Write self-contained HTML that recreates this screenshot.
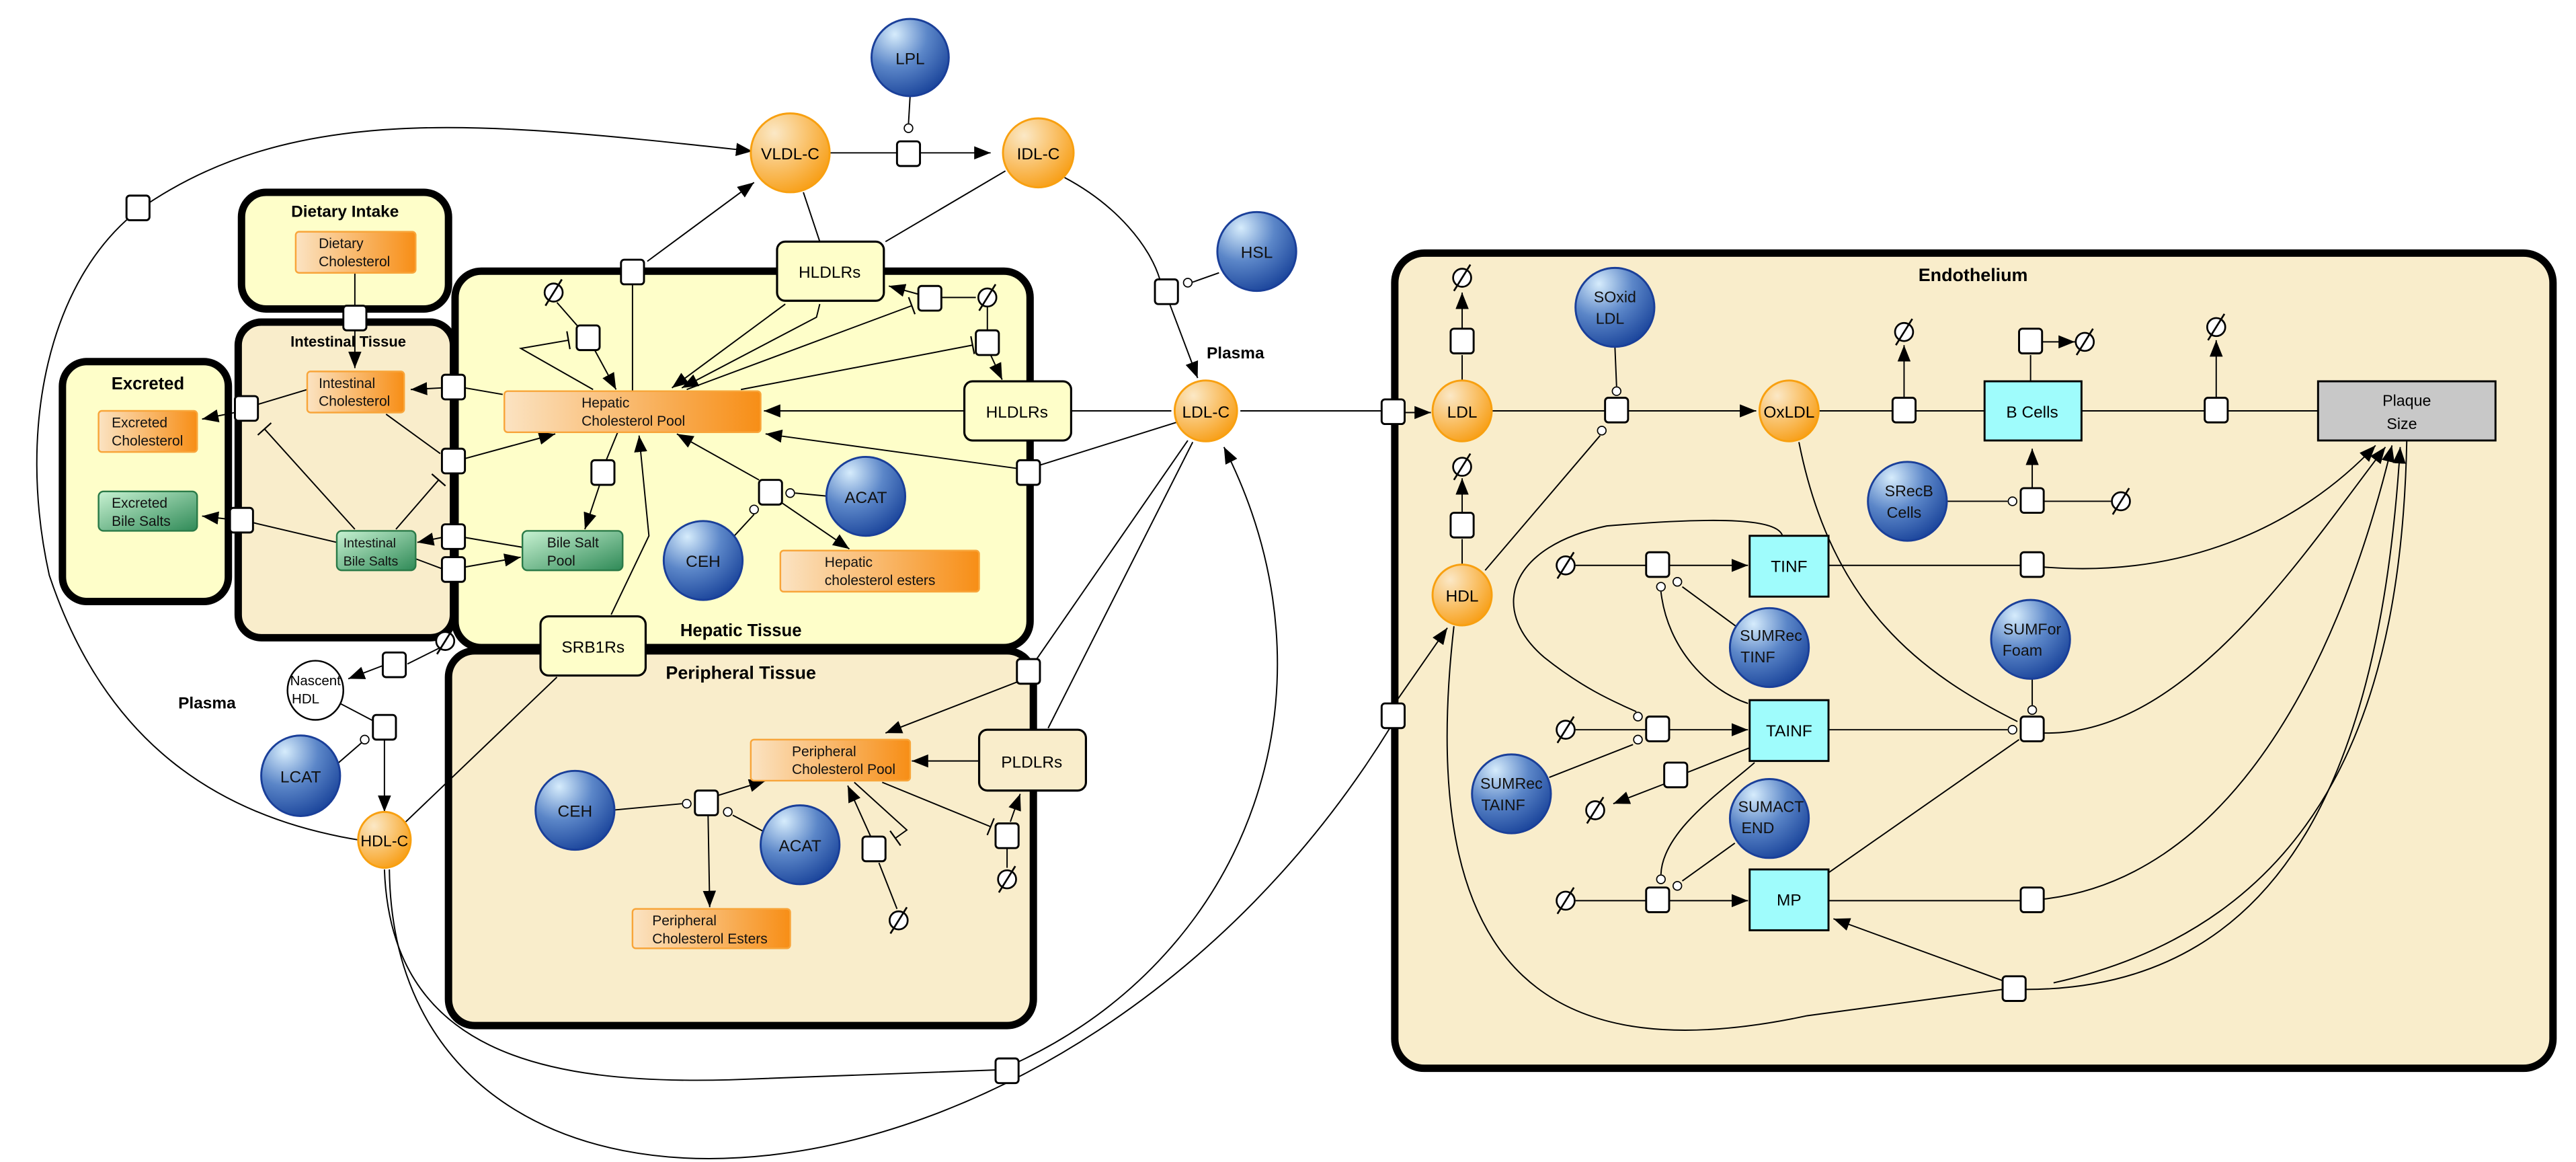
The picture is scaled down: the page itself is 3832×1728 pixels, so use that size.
<!DOCTYPE html>
<html><head><meta charset="utf-8"><style>html,body{margin:0;padding:0;background:#fff}svg{display:block}</style></head><body>
<svg xmlns="http://www.w3.org/2000/svg" width="3832" height="1728" viewBox="0 0 1568 707" preserveAspectRatio="none" font-family="Liberation Sans, sans-serif">
<defs>
<marker id="a" markerUnits="userSpaceOnUse" markerWidth="10" markerHeight="8" viewBox="0 0 10 8" refX="10" refY="4" orient="auto"><path d="M0,0L10,4L0,8z" fill="#000"/></marker>
<marker id="t" markerUnits="userSpaceOnUse" markerWidth="2" markerHeight="12" viewBox="-1 -6 2 12" refX="0" refY="0" orient="auto"><path d="M0,-5.5V5.5" stroke="#000" stroke-width="0.9"/></marker>
<radialGradient id="og" cx="0.3" cy="0.25" r="0.8"><stop offset="0" stop-color="#fbe8c6"/><stop offset="1" stop-color="#f8a01a"/></radialGradient>
<radialGradient id="bg" cx="0.3" cy="0.2" r="0.85"><stop offset="0" stop-color="#d6ecfc"/><stop offset="0.5" stop-color="#5b86c8"/><stop offset="1" stop-color="#1c469c"/></radialGradient>
<linearGradient id="or" x1="0" x2="1"><stop offset="0" stop-color="#fbe3c2"/><stop offset="1" stop-color="#f78e16"/></linearGradient>
<linearGradient id="gr" x1="0" x2="1" y1="0" y2="1"><stop offset="0" stop-color="#c8f2d2"/><stop offset="1" stop-color="#2f8a57"/></linearGradient>
</defs>

<!-- compartments -->
<g stroke="#000" stroke-width="4.5">
<rect x="147" y="117" width="126" height="71" rx="15" fill="#fefec9"/>
<rect x="145" y="196" width="131" height="192" rx="14" fill="#f9edcb"/>
<rect x="38" y="220" width="101" height="146" rx="15" fill="#fefec9"/>
<rect x="277" y="165" width="350" height="229" rx="16" fill="#fefec9"/>
<rect x="273" y="396" width="356" height="228" rx="16" fill="#f9edcb"/>
<rect x="849" y="154" width="705" height="496" rx="18" fill="#f9edcb"/>
</g>
<g font-weight="bold" font-size="10" text-anchor="middle" fill="#000">
<text x="210" y="132">Dietary Intake</text>
<text x="212" y="211" font-size="9">Intestinal Tissue</text>
<text x="90" y="237" font-size="10.5">Excreted</text>
<text x="451" y="387" font-size="10.5">Hepatic Tissue</text>
<text x="451" y="413" font-size="11">Peripheral Tissue</text>
<text x="1201" y="171" font-size="11">Endothelium</text>
<text x="752" y="218">Plasma</text>
<text x="126" y="431">Plasma</text>
</g>

<!-- connectors -->
<g fill="none" stroke="#000" stroke-width="0.8">
<!-- big outer loop to VLDL -->
<path d="M218,511 C120,495 60,440 30,350 C10,260 30,170 84,128 C180,60 300,75 458,92" marker-end="url(#a)"/>
<!-- HDL-C bottom curves -->
<path d="M234,529 C238,640 330,660 444,657 L606,651"/>
<path d="M620,646 C760,580 820,420 745,272" marker-end="url(#a)"/>
<path d="M237,529 C240,790 650,760 846,443"/>
<path d="M849,428 L881,382" marker-end="url(#a)"/>
<path d="M247,500 L339,412"/>
<!-- VLDL/IDL -->
<path d="M504,93 L546,93"/><path d="M560,93 L603,93" marker-end="url(#a)"/>
<path d="M554,58 L553,75"/>
<path d="M489,117 L499,147"/><path d="M612,104 L539,147"/>
<path d="M648,108 C680,125 700,150 706,170"/>
<path d="M712,185 L729,230" marker-end="url(#a)"/>
<path d="M725,172 L742,166"/>
<!-- LDL-C -->
<path d="M652,250 L713,250"/>
<path d="M716,257 L633,283"/>
<path d="M619,285 L466,264" marker-end="url(#a)"/>
<path d="M723,268 L631,401"/>
<path d="M726,269 L638,443"/>
<path d="M755,250 L841,250"/>
<path d="M855,251 L871,251" marker-end="url(#a)"/>
<!-- hepatic -->
<path d="M385,173 L385,238"/>
<path d="M394,159 L459,111" marker-end="url(#a)"/>
<path d="M339,184 L353,200"/>
<path d="M362,213 L375,237" marker-end="url(#a)"/>
<path d="M361,237 L317,212 L346,207" marker-end="url(#t)"/>
<path d="M478,185 L409,236" marker-end="url(#a)"/>
<path d="M499,185 L497,193 L415,236" marker-end="url(#a)"/>
<path d="M573,181 L594,181"/>
<path d="M559,179 L541,174" marker-end="url(#a)"/>
<path d="M418,237 L555,186" marker-end="url(#t)"/>
<path d="M601,186 L601,201"/>
<path d="M603,216 L610,231" marker-end="url(#a)"/>
<path d="M451,237 L592,210" marker-end="url(#t)"/>
<path d="M587,250 L465,250" marker-end="url(#a)"/>
<path d="M306,240 L283,236"/>
<path d="M269,236 L250,237" marker-end="url(#a)"/>
<path d="M235,252 L268,276"/>
<path d="M283,279 L338,264" marker-end="url(#a)"/>
<path d="M161,261 L216,322" marker-start="url(#t)"/>
<path d="M241,322 L267,292" marker-end="url(#t)"/>
<path d="M318,333 L283,327"/>
<path d="M269,327 L254,330" marker-end="url(#a)"/>
<path d="M253,340 L269,346"/>
<path d="M283,345 L317,339" marker-end="url(#a)"/>
<path d="M376,263 L369,280"/>
<path d="M365,295 L356,322" marker-end="url(#a)"/>
<path d="M372,374 L395,326 L389,265" marker-end="url(#a)"/>
<path d="M462,292 L412,264" marker-end="url(#a)"/>
<path d="M476,306 L517,334" marker-end="url(#a)"/>
<path d="M484,300 L505,302"/>
<path d="M459,313 L447,326"/>
<!-- intestinal/excreted -->
<path d="M216,166 L216,186"/>
<path d="M216,201 L216,224" marker-end="url(#a)"/>
<path d="M187,237 L157,246"/>
<path d="M143,251 L123,255" marker-end="url(#a)"/>
<path d="M205,330 L154,318"/>
<path d="M140,316 L123,314" marker-end="url(#a)"/>
<!-- plasma left -->
<path d="M268,394 L248,404"/>
<path d="M233,405 L212,413" marker-end="url(#a)"/>
<path d="M207,428 L228,439"/>
<path d="M220,452 L205,465"/>
<path d="M234,450 L234,494" marker-end="url(#a)"/>
<!-- peripheral -->
<path d="M619,415 L539,446" marker-end="url(#a)"/>
<path d="M596,463 L555,463" marker-end="url(#a)"/>
<path d="M372,493 L415,489"/>
<path d="M437,484 L466,475" marker-end="url(#a)"/>
<path d="M446,496 L465,506"/>
<path d="M431,496 L432,552" marker-end="url(#a)"/>
<path d="M546,553 L535,525"/>
<path d="M530,509 L516,478" marker-end="url(#a)"/>
<path d="M520,476 L552,505 L545,510" marker-end="url(#t)"/>
<path d="M537,476 L603,503" marker-end="url(#t)"/>
<path d="M613,516 L613,528"/>
<path d="M615,500 L621,483" marker-end="url(#a)"/>
<!-- endothelium -->
<path d="M890,231 L890,216"/><path d="M890,200 L890,178" marker-end="url(#a)"/>
<path d="M890,343 L890,328"/><path d="M890,312 L890,291" marker-end="url(#a)"/>
<path d="M908,250 L977,250"/>
<path d="M991,250 L1069,250" marker-end="url(#a)"/>
<path d="M983,211 L984,235"/>
<path d="M974,265 L904,347"/>
<path d="M1107,250 L1152,250"/><path d="M1166,250 L1208,250"/>
<path d="M1159,242 L1159,210" marker-end="url(#a)"/>
<path d="M1236,232 L1236,216"/>
<path d="M1243,208 L1263,208" marker-end="url(#a)"/>
<path d="M1267,250 L1342,250"/><path d="M1356,250 L1411,250"/>
<path d="M1349,242 L1349,207" marker-end="url(#a)"/>
<path d="M1185,305 L1222,305"/>
<path d="M1244,305 L1285,305"/>
<path d="M1237,297 L1237,273" marker-end="url(#a)"/>
<path d="M959,344 L1002,344"/>
<path d="M1016,344 L1064,344" marker-end="url(#a)"/>
<path d="M1113,344 L1230,344"/>
<path d="M1244,345 C1330,352 1400,320 1446,271" marker-end="url(#a)"/>
<path d="M1024,357 L1058,382"/>
<path d="M1011,360 C1015,395 1040,420 1064,428"/>
<path d="M1085,326 C1082,316 1050,314 978,320 C920,332 905,370 940,400 C965,420 985,428 996,433"/>
<path d="M959,444 L1002,444"/>
<path d="M1016,444 L1064,444" marker-end="url(#a)"/>
<path d="M994,453 L943,473"/>
<path d="M1113,444 L1222,444"/>
<path d="M1095,269 C1115,370 1170,410 1228,439"/>
<path d="M1244,446 C1330,448 1400,340 1452,272" marker-end="url(#a)"/>
<path d="M1237,403 L1237,429"/>
<path d="M1065,455 L1027,470"/>
<path d="M1013,477 L982,489" marker-end="url(#a)"/>
<path d="M959,548 L1002,548"/>
<path d="M1016,548 L1064,548" marker-end="url(#a)"/>
<path d="M1024,536 L1056,513"/>
<path d="M1011,532 C1012,505 1050,480 1068,464"/>
<path d="M1113,531 L1229,450"/>
<path d="M1113,548 L1230,548"/>
<path d="M1244,547 C1350,535 1420,420 1456,271" marker-end="url(#a)"/>
<path d="M885,381 C860,600 950,650 1100,618 L1219,602"/>
<path d="M1220,597 L1116,559" marker-end="url(#a)"/>
<path d="M1233,602 C1400,602 1450,450 1461,272" marker-end="url(#a)"/>
<path d="M1465,268 C1462,420 1420,560 1250,598"/>
</g>

<!-- small open circles -->
<g fill="#fff" stroke="#000" stroke-width="0.7">
<circle cx="553" cy="78" r="2.6"/><circle cx="723" cy="172" r="2.6"/>
<circle cx="481" cy="300" r="2.6"/><circle cx="459" cy="310" r="2.6"/>
<circle cx="222" cy="450" r="2.6"/>
<circle cx="418" cy="489" r="2.6"/><circle cx="443" cy="494" r="2.6"/>
<circle cx="984" cy="238" r="2.6"/><circle cx="975" cy="262" r="2.6"/>
<circle cx="1225" cy="305" r="2.6"/>
<circle cx="1011" cy="357" r="2.6"/><circle cx="1021" cy="354" r="2.6"/>
<circle cx="997" cy="436" r="2.6"/><circle cx="997" cy="450" r="2.6"/>
<circle cx="1225" cy="444" r="2.6"/><circle cx="1237" cy="432" r="2.6"/>
<circle cx="1011" cy="535" r="2.6"/><circle cx="1021" cy="539" r="2.6"/>
</g>

<!-- empty set symbols -->
<g fill="#fff" stroke="#000" stroke-width="1.1">
<g transform="translate(337,178)"><circle r="5.5"/><line x1="-5" y1="8" x2="5" y2="-8"/></g>
<g transform="translate(601,181)"><circle r="5.5"/><line x1="-5" y1="8" x2="5" y2="-8"/></g>
<g transform="translate(271,390)"><circle r="5.5"/><line x1="-5" y1="8" x2="5" y2="-8"/></g>
<g transform="translate(547,560)"><circle r="5.5"/><line x1="-5" y1="8" x2="5" y2="-8"/></g>
<g transform="translate(613,535)"><circle r="5.5"/><line x1="-5" y1="8" x2="5" y2="-8"/></g>
<g transform="translate(890,169)"><circle r="5.5"/><line x1="-5" y1="8" x2="5" y2="-8"/></g>
<g transform="translate(890,284)"><circle r="5.5"/><line x1="-5" y1="8" x2="5" y2="-8"/></g>
<g transform="translate(1159,202)"><circle r="5.5"/><line x1="-5" y1="8" x2="5" y2="-8"/></g>
<g transform="translate(1269,208)"><circle r="5.5"/><line x1="-5" y1="8" x2="5" y2="-8"/></g>
<g transform="translate(1349,199)"><circle r="5.5"/><line x1="-5" y1="8" x2="5" y2="-8"/></g>
<g transform="translate(1291,305)"><circle r="5.5"/><line x1="-5" y1="8" x2="5" y2="-8"/></g>
<g transform="translate(953,344)"><circle r="5.5"/><line x1="-5" y1="8" x2="5" y2="-8"/></g>
<g transform="translate(953,444)"><circle r="5.5"/><line x1="-5" y1="8" x2="5" y2="-8"/></g>
<g transform="translate(971,493)"><circle r="5.5"/><line x1="-5" y1="8" x2="5" y2="-8"/></g>
<g transform="translate(953,548)"><circle r="5.5"/><line x1="-5" y1="8" x2="5" y2="-8"/></g>
</g>

<!-- reaction squares -->
<g fill="#fff" stroke="#000" stroke-width="1.2">
<rect x="77" y="119" width="14" height="15" rx="2"/>
<rect x="546" y="86" width="14" height="15" rx="2"/>
<rect x="703" y="170" width="14" height="15" rx="2"/>
<rect x="378" y="158" width="14" height="15" rx="2"/>
<rect x="351" y="198" width="14" height="15" rx="2"/>
<rect x="559" y="174" width="14" height="15" rx="2"/>
<rect x="594" y="201" width="14" height="15" rx="2"/>
<rect x="619" y="280" width="14" height="15" rx="2"/>
<rect x="619" y="401" width="14" height="15" rx="2"/>
<rect x="209" y="186" width="14" height="15" rx="2"/>
<rect x="269" y="228" width="14" height="15" rx="2"/>
<rect x="269" y="273" width="14" height="15" rx="2"/>
<rect x="269" y="319" width="14" height="15" rx="2"/>
<rect x="269" y="339" width="14" height="15" rx="2"/>
<rect x="143" y="241" width="14" height="15" rx="2"/>
<rect x="140" y="309" width="14" height="15" rx="2"/>
<rect x="360" y="280" width="14" height="15" rx="2"/>
<rect x="462" y="292" width="14" height="15" rx="2"/>
<rect x="233" y="397" width="14" height="15" rx="2"/>
<rect x="227" y="435" width="14" height="15" rx="2"/>
<rect x="423" y="481" width="14" height="15" rx="2"/>
<rect x="525" y="509" width="14" height="15" rx="2"/>
<rect x="606" y="501" width="14" height="15" rx="2"/>
<rect x="606" y="644" width="14" height="15" rx="2"/>
<rect x="841" y="243" width="14" height="15" rx="2"/>
<rect x="841" y="428" width="14" height="15" rx="2"/>
<rect x="883" y="200" width="14" height="15" rx="2"/>
<rect x="883" y="312" width="14" height="15" rx="2"/>
<rect x="977" y="242" width="14" height="15" rx="2"/>
<rect x="1152" y="242" width="14" height="15" rx="2"/>
<rect x="1229" y="200" width="14" height="15" rx="2"/>
<rect x="1342" y="242" width="14" height="15" rx="2"/>
<rect x="1230" y="297" width="14" height="15" rx="2"/>
<rect x="1002" y="336" width="14" height="15" rx="2"/>
<rect x="1230" y="336" width="14" height="15" rx="2"/>
<rect x="1002" y="436" width="14" height="15" rx="2"/>
<rect x="1230" y="436" width="14" height="15" rx="2"/>
<rect x="1013" y="464" width="14" height="15" rx="2"/>
<rect x="1002" y="540" width="14" height="15" rx="2"/>
<rect x="1230" y="540" width="14" height="15" rx="2"/>
<rect x="1219" y="594" width="14" height="15" rx="2"/>
</g>

<!-- receptor boxes -->
<g fill="#fefec9" stroke="#000" stroke-width="1.3">
<rect x="473" y="147" width="65" height="36" rx="5"/>
<rect x="587" y="232" width="65" height="36" rx="5"/>
<rect x="329" y="375" width="64" height="36" rx="5"/>
<rect x="596" y="444" width="65" height="37" rx="5" fill="#f9edcb"/>
</g>
<g font-size="10" text-anchor="middle">
<text x="505" y="169">HLDLRs</text>
<text x="619" y="254">HLDLRs</text>
<text x="361" y="397">SRB1Rs</text>
<text x="628" y="467">PLDLRs</text>
</g>

<!-- orange rect nodes -->
<g stroke="#f8a53a" stroke-width="1" fill="url(#or)">
<rect x="180" y="141" width="73" height="25" rx="2"/>
<rect x="187" y="226" width="59" height="25" rx="2"/>
<rect x="60" y="250" width="60" height="25" rx="2"/>
<rect x="307" y="238" width="156" height="25" rx="2"/>
<rect x="475" y="335" width="121" height="25" rx="2"/>
<rect x="457" y="450" width="97" height="25" rx="2"/>
<rect x="385" y="553" width="96" height="24" rx="2"/>
</g>
<g fill="url(#gr)" stroke="#2a7a48" stroke-width="1">
<rect x="60" y="299" width="60" height="24" rx="3"/>
<rect x="205" y="323" width="48" height="24" rx="3"/>
<rect x="318" y="323" width="61" height="24" rx="3"/>
</g>
<g font-size="8.6" fill="#111">
<text x="194" y="151">Dietary</text><text x="194" y="162">Cholesterol</text>
<text x="194" y="236">Intestinal</text><text x="194" y="247">Cholesterol</text>
<text x="68" y="260">Excreted</text><text x="68" y="271">Cholesterol</text>
<text x="354" y="248">Hepatic</text><text x="354" y="259">Cholesterol Pool</text>
<text x="502" y="345">Hepatic</text><text x="502" y="356">cholesterol esters</text>
<text x="482" y="460">Peripheral</text><text x="482" y="471">Cholesterol Pool</text>
<text x="397" y="563">Peripheral</text><text x="397" y="574">Cholesterol Esters</text>
<text x="68" y="309">Excreted</text><text x="68" y="320">Bile Salts</text>
<text x="209" y="333" font-size="8">Intestinal</text><text x="209" y="344" font-size="8">Bile Salts</text>
<text x="333" y="333">Bile Salt</text><text x="333" y="344">Pool</text>
</g>

<!-- cyan and grey boxes -->
<g stroke="#000" stroke-width="1.2">
<rect x="1208" y="232" width="59" height="36" fill="#9ffcfc"/>
<rect x="1065" y="326" width="48" height="37" fill="#9ffcfc"/>
<rect x="1065" y="426" width="48" height="37" fill="#9ffcfc"/>
<rect x="1065" y="529" width="48" height="37" fill="#9ffcfc"/>
<rect x="1411" y="232" width="108" height="36" fill="#c8c8c8"/>
</g>
<g font-size="10" text-anchor="middle">
<text x="1237" y="254">B Cells</text>
<text x="1089" y="348">TINF</text>
<text x="1089" y="448">TAINF</text>
<text x="1089" y="551">MP</text>
<text x="1465" y="247" font-size="9.5">Plaque</text>
<text x="1462" y="261" font-size="9.5">Size</text>
</g>

<!-- orange circles -->
<g fill="url(#og)" stroke="#f8a010" stroke-width="1.2">
<ellipse cx="481" cy="93" rx="24" ry="24"/>
<ellipse cx="632" cy="93" rx="21.5" ry="21"/>
<ellipse cx="734" cy="250" rx="19" ry="18.5"/>
<ellipse cx="234" cy="511" rx="16" ry="17"/>
<ellipse cx="890" cy="250" rx="18" ry="18.5"/>
<ellipse cx="1089" cy="250" rx="18" ry="18.5"/>
<ellipse cx="890" cy="362" rx="18" ry="18.5"/>
</g>
<ellipse cx="192" cy="420" rx="17" ry="18" fill="#fff" stroke="#000" stroke-width="1"/>
<g font-size="10" text-anchor="middle">
<text x="481" y="97">VLDL-C</text>
<text x="632" y="97">IDL-C</text>
<text x="734" y="254">LDL-C</text>
<text x="234" y="515" font-size="9.5">HDL-C</text>
<text x="890" y="254">LDL</text>
<text x="1089" y="254">OxLDL</text>
<text x="890" y="366">HDL</text>
<text x="192" y="417" font-size="8.4">Nascent</text>
<text x="186" y="428" font-size="8.4">HDL</text>
</g>

<!-- blue circles -->
<g fill="url(#bg)" stroke="#1a3f99" stroke-width="1.2">
<ellipse cx="554" cy="35" rx="23.5" ry="23.5"/>
<ellipse cx="765" cy="153" rx="24" ry="24"/>
<ellipse cx="527" cy="302" rx="24" ry="24"/>
<ellipse cx="428" cy="341" rx="24" ry="24"/>
<ellipse cx="183" cy="472" rx="24" ry="24.5"/>
<ellipse cx="350" cy="493" rx="24" ry="24"/>
<ellipse cx="487" cy="514" rx="24" ry="24"/>
<ellipse cx="983" cy="187" rx="24" ry="24"/>
<ellipse cx="1161" cy="305" rx="24" ry="24"/>
<ellipse cx="1077" cy="394" rx="24" ry="24"/>
<ellipse cx="1236" cy="389" rx="24" ry="24"/>
<ellipse cx="920" cy="483" rx="24" ry="24"/>
<ellipse cx="1077" cy="498" rx="24" ry="24"/>
</g>
<g font-size="10" text-anchor="middle" fill="#111">
<text x="554" y="39">LPL</text>
<text x="765" y="157">HSL</text>
<text x="527" y="306">ACAT</text>
<text x="428" y="345">CEH</text>
<text x="183" y="476">LCAT</text>
<text x="350" y="497">CEH</text>
<text x="487" y="518">ACAT</text>
<text x="983" y="184" font-size="9.5">SOxid</text><text x="980" y="197" font-size="9.5">LDL</text>
<text x="1162" y="302" font-size="9.5">SRecB</text><text x="1159" y="315" font-size="9.5">Cells</text>
<text x="1078" y="390" font-size="9.5">SUMRec</text><text x="1070" y="403" font-size="9.5">TINF</text>
<text x="1237" y="386" font-size="9.5">SUMFor</text><text x="1231" y="399" font-size="9.5">Foam</text>
<text x="920" y="480" font-size="9.5">SUMRec</text><text x="915" y="493" font-size="9.5">TAINF</text>
<text x="1078" y="494" font-size="9.5">SUMACT</text><text x="1070" y="507" font-size="9.5">END</text>
</g>
</svg>
</body></html>
